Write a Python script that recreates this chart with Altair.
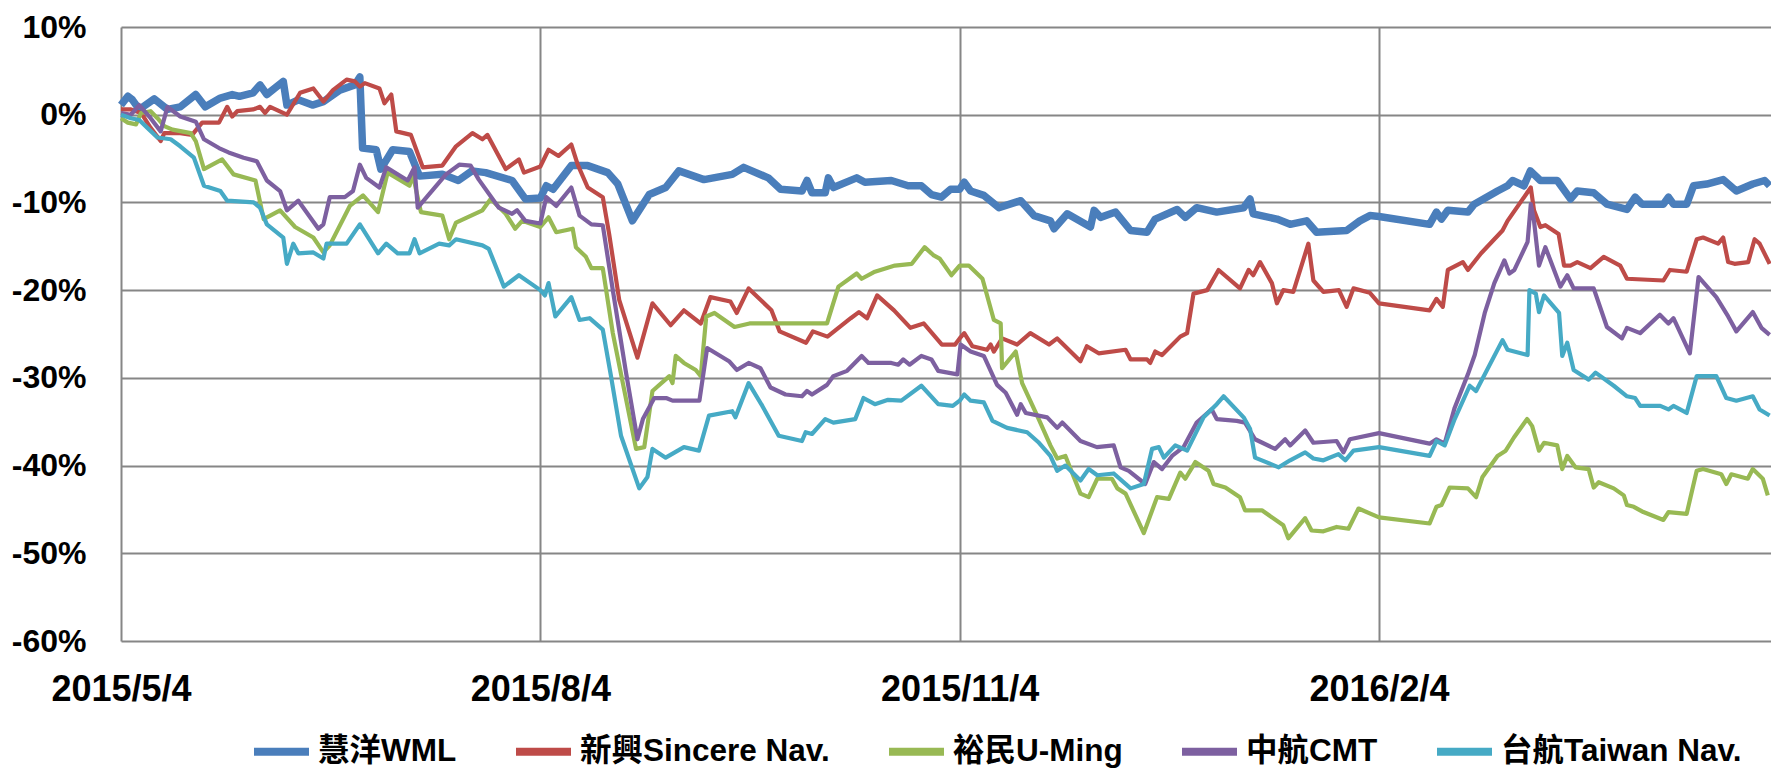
import altair as alt
import pandas as pd

START = "2015-05-04"
END = "2016-04-30"
SERIES = ["慧洋WML", "新興Sincere Nav.", "裕民U-Ming", "中航CMT", "台航Taiwan Nav."]
COLORS = ["#4A7EBB", "#BE4B48", "#98B954", "#7D60A0", "#46AAC5"]
X_TICKS = ["2015-05-04", "2015-08-04", "2015-11-04", "2016-02-04"]
Y_TICKS = [10, 0, -10, -20, -30, -40, -50, -60]

# (days after 2015/5/4, % change)
wml = [(0,1.1),(1.5,2.1),(2.5,1.7),(4,0.6),(7.3,1.8),(10.2,0.6),(13,0.9),(16.4,2.3),(18.5,0.9),(21.8,1.9),(24.4,2.3),(26,2.1),(29,2.5),(30.5,3.4),(32,2.3),(35.6,3.8),(36.4,1.1),(38.9,1.7),(42,1.1),(44.4,1.5),(48,2.8),(51.3,3.4),(52.4,4.3),(53,-3.8),(56,-4.0),(57,-6.2),(59.6,-4.0),(63.3,-4.2),(65.5,-7.0),(70.5,-6.8),(74,-7.5),(77,-6.4),(80,-6.6),(85.8,-7.5),(88.7,-9.6),(92,-9.5),
       (93.3,-8.1),(94.8,-8.5),(98.8,-5.8),(102.4,-5.8),(106.8,-6.6),(109,-7.9),(112.2,-12.1),(115.9,-9.1),(119.5,-8.3),(122.4,-6.4),(127.9,-7.4),(134.1,-6.8),(136.6,-6.0),(142,-7.2),(144.7,-8.5),(149.4,-8.7),(150.5,-7.5),(151.6,-8.9),(154.5,-8.9),(155.2,-7.2),(156.3,-8.3),(161.4,-7.2),(163.2,-7.7),(169,-7.5),(172.7,-8.1),(175.6,-8.1),(177.8,-9.1),(180,-9.4),(182,-8.5),(184,-8.5),
       (185,-7.7),(186.4,-8.7),(189.3,-9.2),(192.6,-10.6),(197.4,-9.8),(200.3,-11.5),(203.9,-12.1),(204.7,-13.0),(207.6,-11.3),(212.7,-12.8),(213.5,-10.9),(214.9,-11.7),(218.2,-11.1),(221.5,-13.2),(225.1,-13.4),(226.9,-11.9),(231.7,-10.8),(233.5,-11.7),(236,-10.6),(240.4,-11.1),(246.3,-10.6),(247.7,-9.6),(248.4,-11.3),(253.6,-11.9),(256.5,-12.5),(260.1,-12.1),(262.3,-13.4),(268.9,-13.2),(271.8,-12.1),(274,-11.5),(276,-11.6),
       (287.1,-12.5),(288.6,-11.1),(289.7,-11.9),(291.1,-10.9),(295.5,-11.1),(296.9,-10.2),(302,-8.7),(304.2,-8.1),(305.3,-7.5),(307.8,-8.1),(309.2,-6.4),(311.4,-7.5),(315.1,-7.5),(318,-9.6),(319.5,-8.7),(323.1,-8.9),(326,-10.2),(330.4,-10.8),(332.2,-9.4),(333.7,-10.2),(338.4,-10.2),(339.5,-9.4),(340.6,-10.2),(343.5,-10.2),(345,-8.1),(347.9,-7.9),(351.5,-7.4),(354.4,-8.7),(358,-7.9),(360.6,-7.5),(361.7,-8.1)]

sincere = [(0,0.6),(2.2,0.6),(4.4,0.2),(6.5,-1.5),(8.7,-3.0),(9.5,-2.1),(13,-2.1),(15.6,-2.3),(17.8,-0.9),(21.5,-0.9),(23.3,0.9),(24.4,-0.2),(25.5,0.4),(29,0.6),(30.5,0.9),(31.6,0.2),(32.7,0.9),(36.4,0.0),(39.3,2.5),(42.2,3.0),(44.4,1.5),(46.5,2.8),(49.5,4.0),(51.3,3.8),(52.4,3.2),(53.5,3.6),(56.7,3.0),(57.8,1.3),(59.3,2.3),(60.4,-1.9),(63.6,-2.3),(66.2,-6.0),(70.5,-5.8),(73.5,-3.6),(77.1,-2.1),(79.3,-2.8),(80.4,-2.3),(84.4,-6.2),(87.3,-5.1),(88.4,-6.6),(92,-5.9),
           (93.8,-4.0),(96,-4.7),(98.8,-3.4),(100.2,-5.7),(102.4,-8.3),(105.7,-9.4),(107.1,-13.6),(109.3,-21.1),(113.3,-27.7),(116.6,-21.5),(120.6,-24.0),(123.5,-22.3),(127.2,-23.8),(129.3,-20.8),(133.7,-21.3),(135.1,-22.6),(137.7,-19.8),(142.7,-22.3),(144.5,-24.7),(150.3,-26.0),(151.8,-24.7),(155,-25.3),(160.1,-23.2),(161.9,-22.5),(163.7,-23.2),(165.9,-20.6),(169.6,-22.3),(173.2,-24.3),(176.1,-23.8),(180.1,-26.2),(183,-26.2),(184,-25.5),
           (185,-24.9),(186.8,-26.4),(190,-26.8),(190.8,-26.2),(191.5,-27.0),(193.3,-25.5),(196.6,-26.2),(199.5,-24.9),(203.6,-26.2),(205.4,-25.5),(210.5,-28.1),(211.9,-26.4),(214.5,-27.2),(220.4,-26.8),(221.5,-27.9),(225.1,-27.9),(225.8,-28.3),(226.9,-27.0),(228.4,-27.4),(232.4,-25.3),(233.9,-24.9),(235.3,-20.4),(238.3,-20.0),(240.8,-17.7),(245.5,-19.8),(247.4,-17.7),(248.4,-18.3),(249.9,-16.8),(252.5,-19.2),(253.6,-21.5),(255,-20.0),(257.2,-20.2),(260.5,-14.7),(261.6,-18.9),(263.8,-20.2),(267.2,-20.0),(268.9,-21.9),(270.4,-19.8),(274,-20.3),(276,-21.5),
           (287.1,-22.3),(288.6,-21.0),(290,-21.9),(291.1,-17.7),(294.4,-16.8),(295.5,-17.7),(298.4,-15.8),(303.1,-13.2),(304.2,-12.1),(309.3,-8.3),(310,-10.9),(311.4,-12.8),(312.5,-12.6),(315.4,-13.6),(316.6,-17.2),(318,-17.2),(319.5,-16.8),(322.4,-17.5),(325.3,-16.2),(328.9,-17.2),(330.4,-18.7),(338.4,-18.9),(339.8,-17.7),(343.5,-17.9),(345.7,-14.2),(347.1,-14.0),(350.4,-14.7),(351.5,-14.0),(352.6,-16.8),(354,-17.0),(357,-16.8),(358.4,-14.2),(359.5,-14.7),(361.7,-17.0)]

uming = [(0,-0.4),(1.5,-0.9),(3.3,-1.1),(4.4,0.2),(6.5,0.4),(8,-0.4),(9.5,-1.3),(11.3,-1.7),(15.3,-2.1),(16.4,-3.0),(18.2,-6.2),(22.2,-5.1),(24.7,-6.8),(29.5,-7.5),(31.3,-11.9),(34.9,-10.9),(38.2,-12.8),(42.2,-14.0),(44.4,-15.7),(45.8,-14.9),(50.2,-10.4),(53.1,-9.2),(56.4,-11.1),(58.5,-6.6),(63.3,-8.1),(64,-6.8),(65.8,-11.1),(70.5,-11.5),(72,-14.2),(73.5,-12.3),(79.3,-10.9),(81.1,-9.6),(84.4,-11.3),(86.5,-13.0),(88,-12.1),(92,-12.8),
         (93.8,-11.7),(95.5,-13.4),(99.1,-13.0),(99.8,-15.1),(102,-16.2),(103.2,-17.5),(105.7,-17.5),(107.9,-24.9),(113,-38.1),(114.8,-37.9),(116.6,-31.5),(120.3,-29.8),(121,-30.6),(121.7,-27.5),(123.5,-28.3),(126.1,-29.1),(127.2,-29.8),(128.4,-23.0),(130.2,-22.6),(134.6,-24.2),(137.9,-23.8),(150.8,-23.8),(154.9,-23.8),(157.4,-19.6),(161.4,-18.1),(162.5,-18.7),(165.4,-17.9),(169.8,-17.2),(173.5,-17.0),(176.3,-15.1),(178.2,-16.0),(179.6,-16.4),(182.2,-18.3),(184,-17.2),
         (186,-17.2),(189,-18.7),(191.5,-23.4),(193,-23.8),(193.3,-28.9),(196.3,-27.0),(197.7,-30.6),(201,-34.3),(203.9,-37.7),(205.4,-39.2),(207.2,-38.9),(210.5,-43.2),(212.3,-43.6),(214.2,-41.5),(217.4,-41.5),(218.6,-42.6),(220.4,-43.2),(224.4,-47.7),(227.3,-43.6),(229.9,-43.8),(232.4,-40.8),(233.5,-41.5),(235.7,-39.6),(238.6,-40.6),(239.7,-42.1),(242.3,-42.5),(245.5,-43.6),(246.6,-45.1),(250.3,-45.1),(255,-46.8),(256.1,-48.3),(259.8,-46.0),(261.2,-47.4),(263.8,-47.5),(266.7,-47.0),(269.3,-47.2),(271.5,-44.9),(276,-45.9),
         (287.1,-46.6),(288.6,-44.7),(289.7,-44.5),(291.5,-42.5),(295.5,-42.6),(297.3,-43.6),(298.7,-41.3),(302,-38.9),(303.8,-38.3),(305.6,-36.8),(308.5,-34.7),(309.6,-35.5),(311.1,-38.3),(312.2,-37.4),(315.1,-37.7),(316.2,-40.4),(317.3,-38.9),(319.1,-40.2),(322,-40.4),(323.1,-42.5),(324.2,-41.9),(327.5,-42.6),(329.7,-43.4),(330.4,-44.5),(331.9,-44.7),(334,-45.3),(338.4,-46.2),(339.5,-45.3),(343.5,-45.5),(345.7,-40.6),(347.1,-40.4),(351.1,-41.0),(352.2,-42.1),(353.3,-41.0),(356.9,-41.5),(358,-40.4),(360.2,-41.5),(361.3,-43.4)]

cmt = [(0,0.2),(2.2,0.0),(4,1.1),(6.5,-0.4),(8.7,-1.9),(10.2,0.9),(13,-0.2),(16.4,-0.8),(18.2,-2.8),(21.5,-3.8),(23.6,-4.3),(26.9,-4.9),(29.8,-5.3),(32,-7.5),(34.9,-8.7),(36.4,-10.9),(38.9,-9.8),(43.3,-13.0),(44.4,-12.5),(45.8,-9.4),(49.1,-9.4),(50.9,-8.7),(52.4,-5.7),(53.8,-7.2),(56.7,-8.3),(58.2,-6.0),(62.9,-7.5),(64.4,-6.0),(65.1,-10.6),(71.3,-6.8),(74.2,-5.7),(76.7,-5.8),(78.5,-7.4),(82.9,-10.6),(85.8,-11.3),(86.9,-10.9),(88.7,-12.1),(92,-12.4),
       (93.3,-9.4),(95.5,-10.4),(98.8,-8.3),(100.6,-11.5),(103.2,-12.5),(105.7,-12.6),(107.9,-20.0),(110.8,-29.4),(113.3,-37.0),(114.5,-34.7),(117,-32.3),(119.6,-32.3),(121,-32.6),(126.9,-32.6),(128.6,-26.6),(133.4,-28.1),(135.1,-29.1),(137.7,-28.3),(140.3,-28.9),(142.5,-31.1),(145.8,-31.9),(149.4,-32.1),(150.5,-31.5),(151.6,-31.9),(154.9,-30.8),(156.3,-29.8),(159.3,-29.2),(162.5,-27.5),(164,-28.3),(169,-28.3),(170.5,-28.5),(171.6,-27.9),(173,-28.5),(175.6,-27.5),(177.8,-27.9),(179.3,-29.2),(183.5,-29.6),
       (184.2,-26.2),(186.4,-27.0),(189.3,-27.5),(192.2,-30.8),(194.1,-31.7),(196.6,-34.2),(197.4,-33.0),(198.5,-34.0),(203.2,-34.5),(205.4,-35.7),(206.5,-35.1),(210.5,-37.2),(214.1,-37.9),(217.8,-37.7),(219.3,-40.2),(221.1,-40.6),(224.7,-42.1),(226.6,-39.6),(228.4,-40.4),(230.6,-38.9),(233.1,-37.9),(236,-35.1),(239.3,-33.6),(240.4,-34.7),(244.8,-34.9),(246.6,-35.1),(248.8,-37.0),(253.2,-38.1),(255.4,-37.0),(256.5,-37.7),(259.8,-36.0),(261.6,-37.4),(266.7,-37.2),(268.2,-38.5),(269.6,-37.0),(276,-36.3),
       (287.1,-37.5),(288.6,-37.0),(290.4,-37.5),(292.6,-33.4),(295.5,-29.6),(297,-27.4),(299.2,-22.6),(301.3,-19.2),(303.5,-16.6),(304.6,-18.1),(305.7,-17.7),(308.6,-14.5),(309.3,-10.2),(310,-12.1),(311.1,-17.2),(312.5,-15.1),(315.8,-19.6),(317.3,-18.3),(318.7,-19.8),(323.1,-19.8),(326,-24.2),(329.3,-25.5),(330.4,-24.3),(333.3,-24.9),(337.6,-22.8),(339.5,-23.8),(340.6,-23.2),(344.2,-27.2),(346.1,-18.5),(350,-20.8),(352.6,-23.0),(354.4,-24.7),(358,-22.5),(359.9,-24.3),(361.7,-25.1)]

taiwan = [(0,0.0),(2.2,-0.4),(4,-0.6),(5.8,-1.5),(8,-2.6),(10.9,-2.8),(13,-3.6),(16,-4.9),(18.2,-8.1),(21.8,-8.7),(23.3,-9.8),(29.1,-10.0),(30.5,-10.6),(32,-12.5),(35.6,-14.0),(36.4,-17.0),(37.8,-14.7),(38.9,-15.8),(42.2,-15.7),(44.4,-16.4),(45.1,-14.7),(49.5,-14.7),(52.4,-12.5),(56.4,-15.8),(58.2,-14.7),(60.7,-15.8),(63.3,-15.8),(64.4,-14.2),(65.5,-15.8),(69.8,-14.7),(72,-14.9),(73.5,-14.2),(79.3,-14.9),(80.7,-15.3),(84,-19.6),(87.3,-18.3),(92,-20.0),
          (93,-20.6),(93.8,-19.2),(95.3,-23.0),(98.8,-20.8),(100.6,-23.4),(102.8,-23.2),(105.7,-24.5),(107.5,-29.8),(109.7,-36.6),(113.7,-42.6),(115.5,-41.3),(116.6,-38.1),(119.5,-39.1),(123.5,-37.9),(126.8,-38.3),(129,-34.3),(134.1,-33.8),(134.8,-34.5),(137.7,-30.6),(140.7,-33.2),(144.3,-36.6),(149.4,-37.2),(150.2,-36.2),(151.6,-36.4),(154.5,-34.7),(156.3,-35.1),(161.1,-34.7),(162.9,-32.3),(165.4,-33.0),(168.3,-32.5),(171.2,-32.6),(175.6,-30.9),(179.3,-33.0),(182.5,-33.2),(184,-32.6),
          (185,-31.9),(186.4,-32.6),(189.3,-32.8),(191.2,-34.9),(194.4,-35.7),(198.8,-36.2),(201.4,-37.4),(203.9,-38.9),(205.4,-40.6),(207.2,-40.0),(210.5,-41.7),(212.3,-40.4),(214.2,-41.1),(217.8,-40.9),(221.5,-42.6),(224.4,-42.1),(226.2,-38.1),(227.7,-37.9),(228.8,-39.1),(231.3,-37.7),(233.9,-38.3),(237.5,-34.5),(240.4,-33.0),(241.9,-32.1),(246.3,-34.5),(247.7,-35.8),(248.8,-39.1),(254,-40.2),(256.5,-39.4),(259.8,-38.5),(261.6,-39.2),(263.8,-39.4),(267.1,-38.7),(268.6,-39.4),(270.4,-38.3),(276,-37.9),
          (287.1,-38.9),(288.6,-37.2),(290.4,-37.7),(292.6,-34.7),(295.9,-30.9),(297.3,-31.5),(303.1,-25.7),(304.2,-26.8),(308.6,-27.4),(309,-20.0),(310.4,-20.4),(311.1,-22.5),(312.2,-20.6),(315.5,-22.6),(316.2,-27.5),(317.3,-26.0),(318.7,-29.1),(322,-30.2),(323.5,-29.4),(327.5,-30.9),(330.4,-32.1),(332.2,-32.3),(333.3,-33.2),(337.7,-33.2),(339.5,-33.6),(340.6,-33.2),(343.5,-34.0),(345.7,-29.8),(350,-29.8),(352.2,-32.3),(354.4,-32.6),(358,-32.1),(359.5,-33.6),(361.7,-34.3)]

WIDTHS = [7.5, 4.2, 4.2, 4.2, 4.2]


def ms(s):
    return int(pd.Timestamp(s).value // 10**6)


start = pd.Timestamp(START)
rows = []
for name, pts in zip(SERIES, [wml, sincere, uming, cmt, taiwan]):
    for d, v in pts:
        t = start + pd.Timedelta(days=d)
        rows.append({"series": name, "t": int(t.value // 10**6), "v": v})
df = pd.DataFrame(rows)

FONT = "Liberation Sans, 'Noto Sans CJK TC', sans-serif"
GRID = "#868686"

x = alt.X(
    "t:T",
    scale=alt.Scale(type="utc", domain=[ms(START), ms(END)], nice=False),
    axis=alt.Axis(
        values=[ms(s) for s in X_TICKS],
        labelExpr="utcFormat(datum.value, '%Y/%-m/%-d')",
        title=None, grid=True, gridColor=GRID, gridWidth=2, gridOpacity=1,
        ticks=False, domain=False, labelFont=FONT, labelFontSize=36,
        labelFontWeight="bold", labelColor="#000", labelPadding=31,
        labelBaseline="top", labelAlign="center", labelFlush=False, labelOverlap=False,
    ),
)
y = alt.Y(
    "v:Q",
    scale=alt.Scale(domain=[-60, 10], nice=False),
    axis=alt.Axis(
        values=Y_TICKS, labelExpr="datum.value + '%'",
        title=None, grid=True, gridColor=GRID, gridWidth=2, gridOpacity=1,
        ticks=False, domain=False, labelFont=FONT, labelFontSize=32,
        labelFontWeight="bold", labelColor="#000", labelPadding=35,
        labelBaseline="middle", labelAlign="right", labelFlush=False,
    ),
)
color = alt.Color(
    "series:N",
    scale=alt.Scale(domain=SERIES, range=COLORS),
    legend=alt.Legend(
        title=None, orient="none", legendX=129, legendY=693,
        direction="horizontal", columns=5, symbolType="stroke",
        symbolSize=3025, symbolStrokeWidth=8, symbolOpacity=1,
        labelFont=FONT, labelFontSize=31.5, labelFontWeight="bold",
        labelColor="#000", labelLimit=600, labelOffset=5,
        columnPadding=43, padding=0,
    ),
)

layers = []
for name, w in zip(SERIES, WIDTHS):
    layers.append(
        alt.Chart(df)
        .transform_filter(alt.datum.series == name)
        .mark_line(strokeWidth=w, strokeJoin="round")
        .encode(x=x, y=y, color=color)
    )

chart = (
    alt.layer(*layers)
    .properties(
        width=1650, height=614,
        autosize=alt.AutoSizeParams(type="none"),
        padding={"left": 113, "top": 19, "right": 0, "bottom": 130},
        background="white",
    )
    .configure_view(stroke=None)
)

chart.save("out.html", embed_options={"renderer": "svg", "actions": False})
